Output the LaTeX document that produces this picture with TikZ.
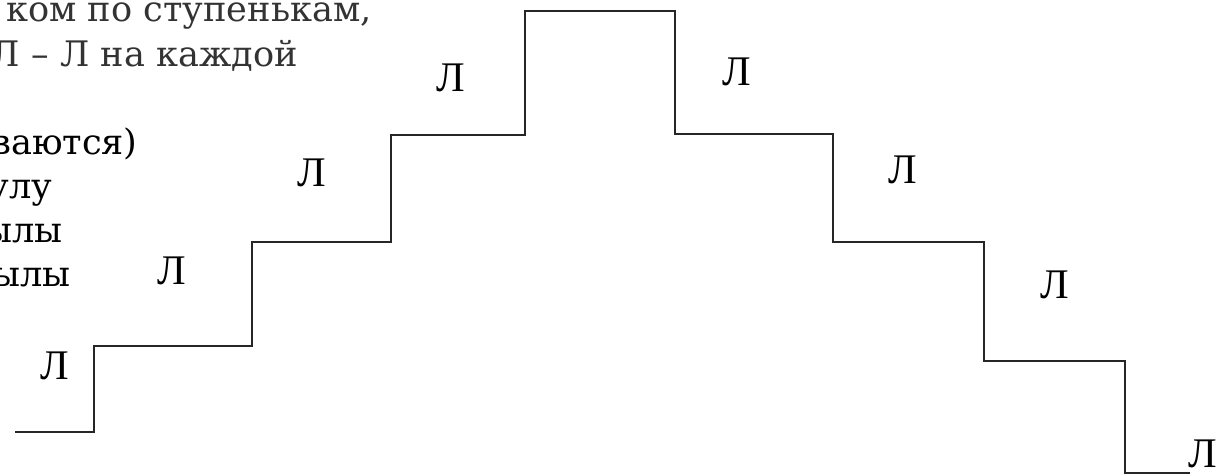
\documentclass[tikz,border=0pt]{standalone}
\usepackage{fontspec}
\newfontfamily\notefont{DejaVu Serif}
\newfontfamily\stepfont{Liberation Serif}
\usetikzlibrary{positioning}

\begin{document}
\begin{tikzpicture}[x=0.2mm, y=0.2mm,
    stair/.style={line width=1.6pt, black!85, line join=miter},
    steplabel/.style={font=\stepfont\fontsize{24pt}{24pt}\selectfont, inner sep=0pt},
    note/.style={font=\notefont\fontsize{20pt}{25pt}\selectfont, anchor=base east, inner sep=0pt}]
    % Page frame
    \useasboundingbox (0,0) rectangle (1227,475);
    \clip (0,0) rectangle (1227,475);

    % Text lines (cut at the left edge)
    \node[note, black!80] (line1) at (372,453) {ком по ступенькам,};
    \node[note, black!80] (line2) at (298,409) {Л – Л на каждой};
    \node[note] (line3) at (138,321) {ваются)};
    \node[note] (line4) at (53,277) {улу};
    \node[note] (line5) at (63,233) {ылы};
    \node[note] (line6) at (71,189) {ылы};

    % Corners of the treads
    \coordinate (start) at (15,43);
    \coordinate (up0) at (94,43);
    \coordinate (up1) at (252,129);
    \coordinate (up2) at (391,233);
    \coordinate (up3) at (525,340);
    \coordinate (top) at (675,464);
    \coordinate (down1) at (833,341);
    \coordinate (down2) at (984,233);
    \coordinate (down3) at (1125,114);
    \coordinate (finish) at (1190,2);

    % Staircase
    \draw[stair] (start) -- (up0) |- (up1) |- (up2) |- (up3) |- (top)
        |- (down1) |- (down2) |- (down3) |- (finish);

    % Letters on the steps
    \node[steplabel] (la) at (55,109) {Л};
    \node[steplabel] (lb) at (172,204) {Л};
    \node[steplabel] (lc) at (312,302) {Л};
    \node[steplabel] (ld) at (451,397) {Л};
    \node[steplabel] (ra) at (737,403) {Л};
    \node[steplabel] (rb) at (903,305) {Л};
    \node[steplabel] (rc) at (1055,190) {Л};
    \node[steplabel] (rd) at (1203,21) {Л};
\end{tikzpicture}
\end{document}
